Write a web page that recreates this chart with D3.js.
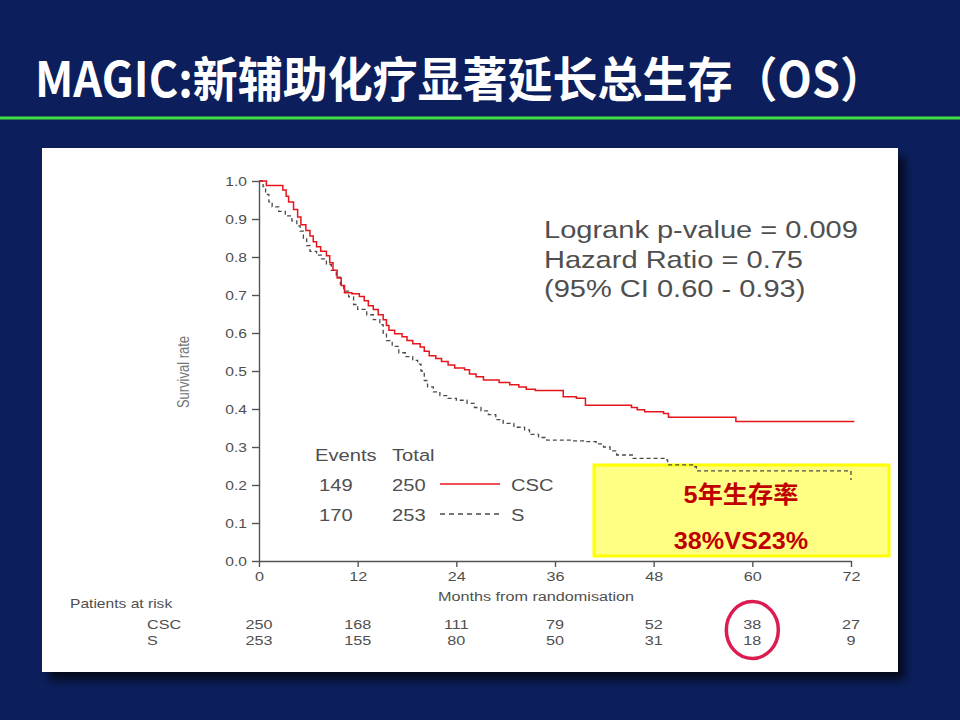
<!DOCTYPE html>
<html>
<head>
<meta charset="utf-8">
<script src="https://cdn.jsdelivr.net/npm/d3@7"></script>
<style>
  body { margin: 0; background: #0c1f5c; }
  svg { display: block; }
</style>
</head>
<body>
<div id="chart"></div>
<script>
const w = 960;
const h = 720;

const title = 'MAGIC:新辅助化疗显著延长总生存（OS）';
const monthTicks = [0, 12, 24, 36, 48, 60, 72];
const survTicks = [0, 0.1, 0.2, 0.3, 0.4, 0.5, 0.6, 0.7, 0.8, 0.9, 1.0];

// Kaplan-Meier steps: [month, survival]
const cscCurve = [
  [0, 1.0], [0.9, 0.988], [2.9, 0.976], [3.3, 0.96], [3.6, 0.945], [4.2, 0.925],
  [4.7, 0.905], [5.1, 0.885], [5.7, 0.87], [6.2, 0.855], [6.6, 0.84], [7.0, 0.827],
  [7.5, 0.815], [8.2, 0.803], [8.6, 0.785], [9.0, 0.765], [9.5, 0.745], [10.0, 0.725],
  [10.4, 0.706], [11.3, 0.703], [12.2, 0.696], [12.8, 0.685], [13.3, 0.672], [13.9, 0.662],
  [14.5, 0.648], [15.1, 0.635], [15.5, 0.62], [15.8, 0.607], [16.5, 0.598], [17.4, 0.59],
  [18.0, 0.58], [18.7, 0.572], [19.6, 0.563], [20.1, 0.552], [20.7, 0.54], [21.5, 0.533],
  [22.2, 0.525], [23.0, 0.516], [23.8, 0.508], [25.0, 0.503], [25.6, 0.492], [26.4, 0.485],
  [27.3, 0.476], [29.2, 0.47], [30.5, 0.464], [31.6, 0.458], [32.5, 0.452], [33.6, 0.449],
  [37.0, 0.432], [38.6, 0.428], [39.7, 0.41], [45.3, 0.404], [46.0, 0.398], [46.9, 0.393],
  [49.2, 0.388], [49.8, 0.378], [58.0, 0.367], [72.4, 0.367]
];
const sCurve = [
  [0, 1.0], [0.5, 0.985], [0.8, 0.965], [1.2, 0.945], [1.6, 0.932], [2.4, 0.92],
  [3.2, 0.908], [4.0, 0.895], [4.6, 0.882], [5.0, 0.868], [5.4, 0.85], [5.8, 0.83],
  [6.2, 0.815], [7.0, 0.805], [7.6, 0.795], [8.2, 0.78], [8.8, 0.765], [9.4, 0.747],
  [9.9, 0.728], [10.3, 0.71], [10.9, 0.695], [11.5, 0.675], [12.0, 0.662], [13.1, 0.648],
  [13.9, 0.635], [14.7, 0.622], [15.1, 0.6], [15.5, 0.58], [16.2, 0.565], [17.0, 0.548],
  [17.8, 0.538], [18.7, 0.528], [19.3, 0.518], [19.7, 0.5], [20.1, 0.475], [20.5, 0.458],
  [21.2, 0.445], [22.0, 0.435], [23.0, 0.428], [24.0, 0.423], [25.3, 0.415], [26.2, 0.404],
  [27.0, 0.395], [27.9, 0.385], [28.8, 0.372], [29.7, 0.362], [31.0, 0.352], [32.3, 0.345],
  [32.9, 0.333], [34.0, 0.325], [35.0, 0.318], [38.0, 0.316], [39.9, 0.314], [41.0, 0.308],
  [41.9, 0.3], [42.7, 0.29], [43.5, 0.279], [45.5, 0.27], [49.5, 0.266], [49.7, 0.253],
  [52.9, 0.248], [53.2, 0.237], [71.9, 0.235], [72.0, 0.213]
];

const groups = ['CSC', 'S'];
const events = [149, 170];
const totals = [250, 253];
const riskCSC = [250, 168, 111, 79, 52, 38, 27];
const riskS = [253, 155, 80, 50, 31, 18, 9];
const statLines = ['Logrank p-value = 0.009', 'Hazard Ratio = 0.75', '(95% CI 0.60 - 0.93)'];
const boxLines = ['5年生存率', '38%VS23%'];

const sx = 1.2; // the pasted chart image is stretched sideways
const grey = '#4f4f4f';
const red = '#e8141c';

const svg = d3.select('#chart')
  .append('svg')
  .attr('width', w)
  .attr('height', h);

const defs = svg.append('defs');
const shadow = defs.append('filter').attr('id', 'shadow')
  .attr('x', '-5%').attr('y', '-5%').attr('width', '115%').attr('height', '115%');
shadow.append('feGaussianBlur').attr('in', 'SourceAlpha').attr('stdDeviation', 5);
shadow.append('feOffset').attr('dx', 7).attr('dy', 8).attr('result', 'b');
shadow.append('feComponentTransfer').append('feFuncA').attr('type', 'linear').attr('slope', 0.7);
const merge = shadow.append('feMerge');
merge.append('feMergeNode');
merge.append('feMergeNode').attr('in', 'SourceGraphic');

svg.append('rect').attr('width', w).attr('height', h).attr('fill', '#0c1f5c');

// title and rule
svg.append('text')
  .attr('x', 35)
  .attr('y', 97)
  .attr('font-family', '"Noto Sans CJK SC", sans-serif')
  .attr('font-weight', 'bold')
  .attr('font-size', 48)
  .attr('textLength', 850)
  .attr('lengthAdjust', 'spacingAndGlyphs')
  .attr('fill', '#fff')
  .text(title);

svg.append('rect')
  .attr('x', 0).attr('y', 116.5)
  .attr('width', w).attr('height', 3)
  .attr('fill', '#40e040');

// white panel holding the chart
svg.append('rect')
  .attr('x', 42).attr('y', 148)
  .attr('width', 856).attr('height', 524)
  .attr('fill', '#fff')
  .attr('filter', 'url(#shadow)');

const xScale = d3.scaleLinear().domain([0, 72]).range([259, 851]);
const yScale = d3.scaleLinear().domain([0, 1]).range([561, 181]);

function label(g, x, y, s, size, anchor) {
  return g.append('text')
    .attr('transform', 'translate(' + x + ',' + y + ') scale(' + sx + ',1)')
    .attr('text-anchor', anchor || 'start')
    .attr('font-family', '"Liberation Sans", Arial, sans-serif')
    .attr('font-size', size)
    .attr('fill', grey)
    .text(s);
}

// axes
const yAxis = d3.axisLeft(yScale)
  .tickValues(survTicks)
  .tickFormat(d3.format('.1f'))
  .tickSize(7)
  .tickSizeOuter(0)
  .tickPadding(3);

const xAxis = d3.axisBottom(xScale)
  .tickValues(monthTicks)
  .tickSize(6)
  .tickSizeOuter(0)
  .tickPadding(4);

const gy = svg.append('g')
  .attr('transform', 'translate(259,0)')
  .call(yAxis);
gy.selectAll('text')
  .attr('transform', 'scale(' + sx + ',1)')
  .attr('font-family', '"Liberation Sans", Arial, sans-serif')
  .attr('font-size', 13)
  .attr('fill', grey);

const gx = svg.append('g')
  .attr('transform', 'translate(0,561)')
  .call(xAxis);
gx.selectAll('text')
  .attr('transform', 'scale(' + sx + ',1)')
  .attr('font-family', '"Liberation Sans", Arial, sans-serif')
  .attr('font-size', 13.5)
  .attr('fill', grey);

svg.selectAll('.domain, .tick line')
  .attr('stroke', '#555')
  .attr('stroke-width', 1.4);

svg.append('text')
  .attr('transform', 'translate(189,372) rotate(-90) scale(1,' + sx + ')')
  .attr('text-anchor', 'middle')
  .attr('font-family', '"Liberation Sans", Arial, sans-serif')
  .attr('font-size', 13)
  .attr('fill', '#777')
  .text('Survival rate');

label(svg, 536, 601, 'Months from randomisation', 13.5, 'middle');

// yellow callout box (curves run over it, its text sits on top)
svg.append('rect')
  .attr('x', 594).attr('y', 465)
  .attr('width', 295).attr('height', 91)
  .attr('fill', '#ffff84')
  .attr('stroke', '#ffff00')
  .attr('stroke-width', 3);

// survival curves
const line = d3.line()
  .x(function(d) { return xScale(d[0]); })
  .y(function(d) { return yScale(d[1]); })
  .curve(d3.curveStepAfter);

svg.append('path')
  .datum(sCurve)
  .attr('d', line)
  .attr('fill', 'none')
  .attr('stroke', '#4a4a4a')
  .attr('stroke-width', 1.3)
  .attr('stroke-dasharray', '4,3');

svg.append('path')
  .datum(cscCurve)
  .attr('d', line)
  .attr('fill', 'none')
  .attr('stroke', red)
  .attr('stroke-width', 1.5);

// box text
boxLines.forEach(function(s, i) {
  svg.append('text')
    .attr('transform', 'translate(741,' + (503 + i * 46) + ') scale(1.05,1)')
    .attr('text-anchor', 'middle')
    .attr('font-family', '"Liberation Sans", "Noto Sans CJK SC", sans-serif')
    .attr('font-weight', 'bold')
    .attr('font-size', 24)
    .attr('fill', '#c00000')
    .text(s);
});

// statistics
statLines.forEach(function(s, i) {
  label(svg, 544, 238 + i * 29.5, s, 24.2);
});

// legend
label(svg, 315, 461, 'Events', 16.8);
label(svg, 392, 461, 'Total', 16.8);
groups.forEach(function(g, i) {
  const yy = 491 + i * 30;
  label(svg, 319, yy, events[i], 16.8);
  label(svg, 392, yy, totals[i], 16.8);
  svg.append('line')
    .attr('x1', 440).attr('x2', 500)
    .attr('y1', yy - 7).attr('y2', yy - 7)
    .attr('stroke', i === 0 ? red : '#4a4a4a')
    .attr('stroke-width', 1.3)
    .attr('stroke-dasharray', i === 0 ? null : '5,4');
  label(svg, 511, yy, g, 16.8);
});

// patients at risk table
label(svg, 70, 608, 'Patients at risk', 13);
label(svg, 147, 629, 'CSC', 13.5);
label(svg, 147, 645, 'S', 13.5);
monthTicks.forEach(function(m, i) {
  label(svg, xScale(m), 629, riskCSC[i], 13.5, 'middle');
  label(svg, xScale(m), 645, riskS[i], 13.5, 'middle');
});

// highlight of the 60-month numbers
svg.append('ellipse')
  .attr('cx', xScale(60)).attr('cy', 630)
  .attr('rx', 26).attr('ry', 28.5)
  .attr('fill', 'none')
  .attr('stroke', '#dc1b4f')
  .attr('stroke-width', 3.5);
</script>
</body>
</html>
